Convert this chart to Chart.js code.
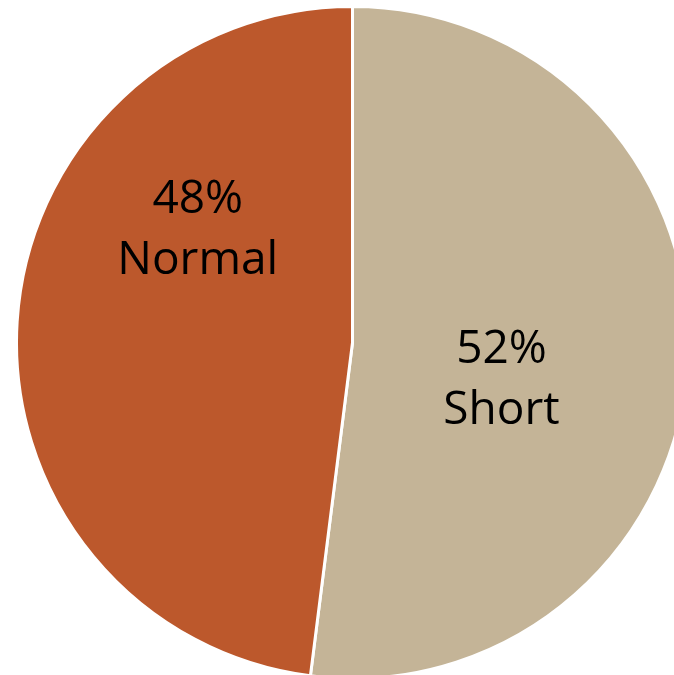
<!DOCTYPE html>
<html>
<head>
<meta charset="utf-8">
<script src="https://cdn.jsdelivr.net/npm/chart.js@4/dist/chart.umd.min.js"></script>
<style>
  html, body { margin: 0; padding: 0; background: #ffffff; overflow: hidden; width: 674px; height: 675px; }
  #wrap { position: absolute; left: 15px; top: 5px; width: 675px; height: 675px; }
</style>
</head>
<body>
<div id="wrap"><canvas id="pie"></canvas></div>
<script>
// Slice data, clockwise from 12 o'clock
const categories = ['Short', 'Normal'];
const shares = [52, 48];
const sliceColors = ['#C4B497', '#BC582C'];

// Where each two-line label sits: angle (deg, canvas coords) and fraction of the radius
const labelSpots = [
    { angle: 12.9, dist: 0.455 },
    { angle: 216.9, dist: 0.576 }
];

// Draws "NN%" over the category name inside each slice
const sliceLabels = {
    id: 'sliceLabels',
    afterDatasetsDraw(chart) {
        const ctx = chart.ctx;
        const meta = chart.getDatasetMeta(0);
        const values = chart.data.datasets[0].data;
        const total = values.reduce((a, b) => a + b, 0);
        ctx.save();
        ctx.fillStyle = '#000000';
        ctx.font = '46px "Open Sans", "Liberation Sans", sans-serif';
        ctx.textAlign = 'center';
        ctx.textBaseline = 'alphabetic';
        meta.data.forEach((arc, i) => {
            const spot = labelSpots[i];
            const rad = spot.angle * Math.PI / 180;
            const cx = arc.x + Math.cos(rad) * arc.outerRadius * spot.dist;
            const cy = arc.y + Math.sin(rad) * arc.outerRadius * spot.dist;
            const pct = Math.round(values[i] / total * 100) + '%';
            ctx.fillText(pct, cx, cy - 13.5);
            ctx.fillText(chart.data.labels[i], cx, cy + 47.5);
        });
        ctx.restore();
    }
};

new Chart(document.getElementById('pie'), {
    type: 'pie',
    data: {
        labels: categories,
        datasets: [{
            data: shares,
            backgroundColor: sliceColors,
            borderColor: '#ffffff',
            borderWidth: 3
        }]
    },
    options: {
        responsive: true,
        maintainAspectRatio: false,
        animation: false,
        layout: { padding: 0 },
        plugins: {
            legend: { display: false },
            tooltip: { enabled: false }
        }
    },
    plugins: [sliceLabels]
});
</script>
</body>
</html>
